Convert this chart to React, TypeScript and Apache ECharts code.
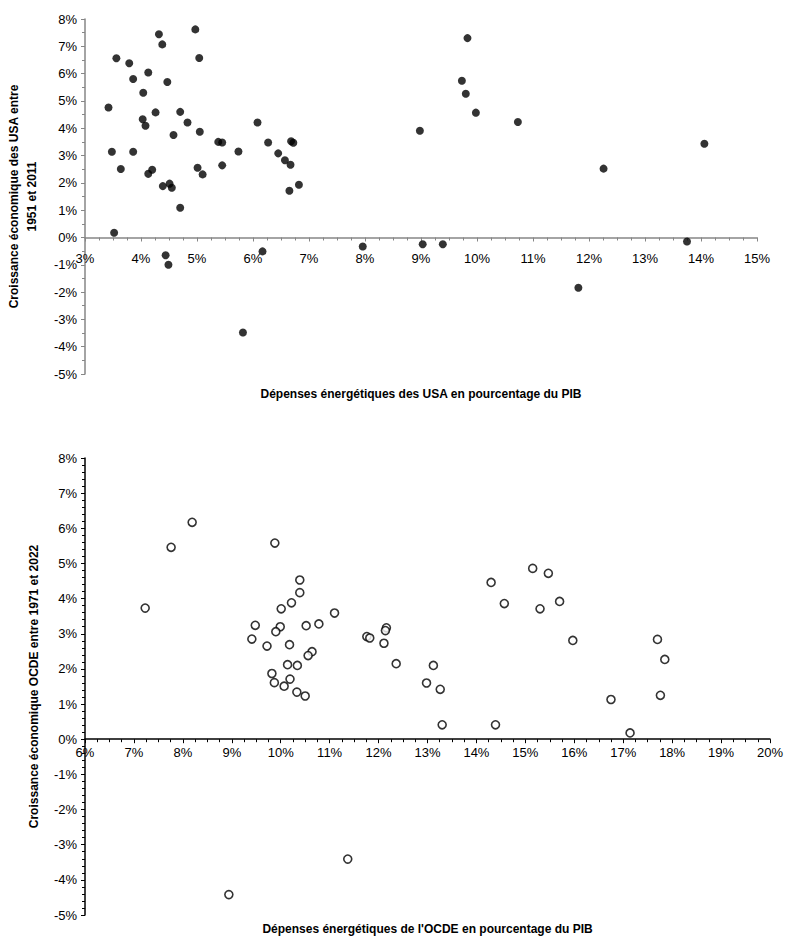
import { useRef, useEffect } from 'react'
import * as echarts from 'echarts'

// USA: energy spending (% GDP) vs growth (%), 1951-2011
const usaSpend = [
  3.42, 3.56, 3.79, 4.13, 3.86, 4.04, 4.32, 4.38, 4.47, 4.97, 5.04, 4.26, 4.7, 4.03, 4.08, 4.83,
  5.05, 4.58, 6.08, 3.48, 3.86, 5.38, 5.45, 5.74, 6.27, 6.68, 6.72, 6.45, 6.57, 6.67, 6.82, 6.65,
  3.64, 4.13, 4.2, 5.01, 5.1, 5.45, 4.39, 4.51, 4.55, 4.7, 3.52, 4.44, 4.49, 6.17, 7.96, 5.82,
  9.83, 9.73, 9.8, 9.98, 8.98, 10.73, 14.06, 12.26, 9.03, 9.39, 13.75, 11.81,
]
const usaGrowth = [
  4.76, 6.56, 6.38, 6.04, 5.8, 5.3, 7.44, 7.07, 5.69, 7.62, 6.57, 4.58, 4.6, 4.33, 4.09, 4.21,
  3.87, 3.75, 4.21, 3.14, 3.14, 3.5, 3.48, 3.15, 3.48, 3.52, 3.47, 3.08, 2.83, 2.66, 1.93, 1.71,
  2.51, 2.33, 2.48, 2.55, 2.31, 2.64, 1.88, 1.97, 1.82, 1.09, 0.17, -0.65, -1.0, -0.51, -0.33, -3.48,
  7.3, 5.74, 5.26, 4.57, 3.91, 4.23, 3.43, 2.52, -0.25, -0.25, -0.15, -1.84,
]

// OCDE: energy spending (% GDP) vs growth (%), 1971-2022
const oecdSpend = [
  7.23, 7.76, 8.19, 9.88, 10.39, 10.39, 10.22, 10.01, 11.1, 9.48, 9.99, 10.52, 10.78, 9.9, 9.41,
  9.72, 10.18, 11.76, 11.82, 12.16, 12.14, 12.11, 10.64, 10.56, 12.36, 10.14, 10.34, 13.12, 9.82,
  10.19, 9.87, 10.07, 12.98, 13.26, 10.33, 10.5, 13.3, 11.37, 8.94,
  14.3, 14.57, 15.15, 15.47, 15.3, 15.7, 15.97, 17.7, 17.85, 17.76, 16.75, 17.14, 14.39,
]
const oecdGrowth = [
  3.73, 5.46, 6.17, 5.58, 4.53, 4.17, 3.88, 3.71, 3.59, 3.24, 3.2, 3.23, 3.28, 3.06, 2.85,
  2.65, 2.69, 2.92, 2.88, 3.17, 3.09, 2.73, 2.49, 2.38, 2.15, 2.12, 2.1, 2.1, 1.87,
  1.71, 1.61, 1.51, 1.6, 1.42, 1.34, 1.23, 0.41, -3.41, -4.42,
  4.46, 3.86, 4.86, 4.72, 3.71, 3.92, 2.81, 2.84, 2.27, 1.25, 1.13, 0.18, 0.41,
]

const font = '"Liberation Sans", Arial, sans-serif'
const pct = (v: number) => `${Math.round(v)}%`

export default function App() {
  const ref = useRef<HTMLDivElement>(null)

  useEffect(() => {
    if (!ref.current) return
    const chart = echarts.init(ref.current, undefined, { renderer: 'svg' })
    const gray = '#868686'
    const axisLabel = { color: '#000', fontSize: 13, fontFamily: font, formatter: pct }
    const nameStyle = { color: '#000', fontSize: 12, fontWeight: 'bold' as const, fontFamily: font }

    chart.setOption({
      animation: false,
      backgroundColor: '#fff',
      grid: [
        { left: 85, top: 19, width: 672, height: 355, outerBoundsMode: 'none' },
        { left: 85, top: 458, width: 685, height: 457, outerBoundsMode: 'none' },
      ],
      xAxis: [
        {
          gridIndex: 0, type: 'value', min: 3, max: 15, interval: 1,
          offset: -136.5,
          axisLine: { onZero: false, lineStyle: { color: gray, width: 1.5 } },
          axisTick: { lineStyle: { color: gray }, length: 4 },
          minorTick: { show: true, splitNumber: 4, length: 3, lineStyle: { color: gray } },
          splitLine: { show: false },
          axisLabel: { ...axisLabel, margin: 14 },
          name: 'Dépenses énergétiques des USA en pourcentage du PIB',
          nameLocation: 'middle', nameGap: 150, nameTextStyle: nameStyle,
        },
        {
          gridIndex: 1, type: 'value', min: 6, max: 20, interval: 1,
          offset: -175.8,
          axisLine: { onZero: false, lineStyle: { color: '#000', width: 1.5 } },
          axisTick: { lineStyle: { color: '#000' }, length: 4 },
          minorTick: { show: true, splitNumber: 4, length: 3, lineStyle: { color: '#000' } },
          splitLine: { show: false },
          axisLabel: { ...axisLabel, margin: 7 },
          name: "Dépenses énergétiques de l'OCDE en pourcentage du PIB",
          nameLocation: 'middle', nameGap: 184, nameTextStyle: nameStyle,
        },
      ],
      yAxis: [
        {
          gridIndex: 0, type: 'value', min: -5, max: 8, interval: 1,
          axisLine: { show: true, lineStyle: { color: gray, width: 1.5 } },
          axisTick: { lineStyle: { color: gray }, length: 4 },
          minorTick: { show: true, splitNumber: 2, length: 3, lineStyle: { color: gray } },
          splitLine: { show: false },
          axisLabel: { ...axisLabel, margin: 8 },
          name: 'Croissance économique des USA entre\n1951 et 2011',
          nameLocation: 'middle', nameGap: 44, nameTextStyle: { ...nameStyle, lineHeight: 18 },
        },
        {
          gridIndex: 1, type: 'value', min: -5, max: 8, interval: 1,
          axisLine: { show: true, lineStyle: { color: '#000', width: 1.5 } },
          axisTick: { lineStyle: { color: '#000' }, length: 4 },
          minorTick: { show: true, splitNumber: 5, length: 3, lineStyle: { color: '#000' } },
          splitLine: { show: false },
          axisLabel: { ...axisLabel, margin: 8 },
          name: 'Croissance économique OCDE entre 1971 et 2022',
          nameLocation: 'middle', nameGap: 45, nameTextStyle: nameStyle,
        },
      ],
      series: [
        {
          type: 'scatter', xAxisIndex: 0, yAxisIndex: 0, symbolSize: 8,
          itemStyle: { color: '#000' },
          data: usaSpend.map((x, i) => [x, usaGrowth[i]]),
        },
        {
          type: 'scatter', xAxisIndex: 1, yAxisIndex: 1, symbolSize: 8,
          itemStyle: { color: '#fff', borderColor: '#000', borderWidth: 1.6 },
          data: oecdSpend.map((x, i) => [x, oecdGrowth[i]]),
        },
      ],
    })
    return () => chart.dispose()
  }, [])

  return (
    <div
      ref={ref}
      style={{ position: 'fixed', left: 0, top: 0, width: 785, height: 937 }}
    />
  )
}
